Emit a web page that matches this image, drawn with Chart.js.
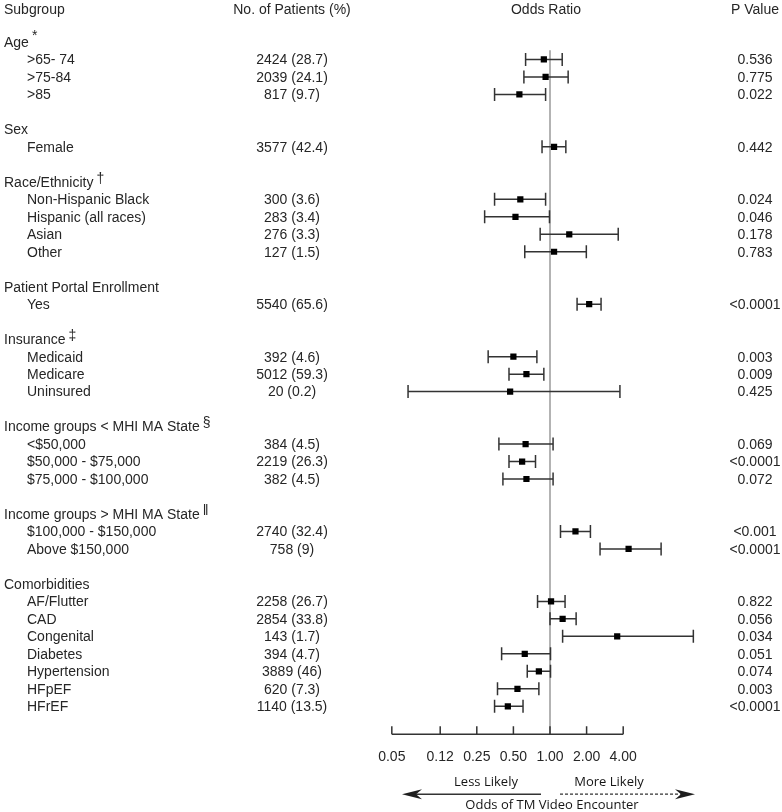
<!DOCTYPE html>
<html><head><meta charset="utf-8">
<script src="https://cdn.jsdelivr.net/npm/chart.js@4"></script>
<style>html,body{margin:0;padding:0;background:#fff}#wrap{width:782px;height:812px;position:relative}</style>
</head><body><div id="wrap"><canvas id="c" width="782" height="812"></canvas></div>
<script>
// ---------- DATA ----------
const groupNames = ["Age", "Sex", "Race/Ethnicity", "Patient Portal Enrollment", "Insurance",
  "Income groups < MHI MA State", "Income groups > MHI MA State", "Comorbidities"];
const groupMarks = ["*", "", "\u2020", "", "\u2021", "\u00a7", "\u2016", ""];
const groupSizes = [3, 1, 4, 1, 3, 3, 2, 7];
const subgroups = [">65- 74", ">75-84", ">85",
  "Female",
  "Non-Hispanic Black", "Hispanic (all races)", "Asian", "Other",
  "Yes",
  "Medicaid", "Medicare", "Uninsured",
  "<$50,000", "$50,000 - $75,000", "$75,000 - $100,000",
  "$100,000 - $150,000", "Above $150,000",
  "AF/Flutter", "CAD", "Congenital", "Diabetes", "Hypertension", "HFpEF", "HFrEF"];
const patients = ["2424 (28.7)", "2039 (24.1)", "817 (9.7)",
  "3577 (42.4)",
  "300 (3.6)", "283 (3.4)", "276 (3.3)", "127 (1.5)",
  "5540 (65.6)",
  "392 (4.6)", "5012 (59.3)", "20 (0.2)",
  "384 (4.5)", "2219 (26.3)", "382 (4.5)",
  "2740 (32.4)", "758 (9)",
  "2258 (26.7)", "2854 (33.8)", "143 (1.7)", "394 (4.7)", "3889 (46)", "620 (7.3)", "1140 (13.5)"];
const oddsRatio = [0.89, 0.92, 0.56,
  1.08,
  0.57, 0.52, 1.44, 1.08,
  2.10,
  0.50, 0.64, 0.47,
  0.63, 0.59, 0.64,
  1.62, 4.43,
  1.02, 1.27, 3.57, 0.62, 0.81, 0.54, 0.45];
const ciLow = [0.63, 0.61, 0.35,
  0.86,
  0.35, 0.29, 0.83, 0.62,
  1.67,
  0.31, 0.46, 0.068,
  0.38, 0.46, 0.41,
  1.22, 2.58,
  0.79, 1.00, 1.27, 0.40, 0.65, 0.37, 0.35];
const ciHigh = [1.26, 1.41, 0.92,
  1.35,
  0.92, 0.99, 3.64, 1.99,
  2.63,
  0.78, 0.89, 3.76,
  1.06, 0.76, 1.06,
  2.15, 8.2,
  1.33, 1.64, 15.1, 1.01, 1.01, 0.81, 0.60];
const pValues = ["0.536", "0.775", "0.022",
  "0.442",
  "0.024", "0.046", "0.178", "0.783",
  "<0.0001",
  "0.003", "0.009", "0.425",
  "0.069", "<0.0001", "0.072",
  "<0.001", "<0.0001",
  "0.822", "0.056", "0.034", "0.051", "0.074", "0.003", "<0.0001"];
const tickValues = [0.05, 0.125, 0.25, 0.5, 1, 2, 4];
const tickLabels = ["0.05", "0.12", "0.25", "0.50", "1.00", "2.00", "4.00"];
const columnHeaders = ["Subgroup", "No. of Patients (%)", "Odds Ratio", "P Value"];
const directionLabels = ["Less Likely", "More Likely"];
const axisCaption = "Odds of TM Video Encounter";

// ---------- ROW LAYOUT (slot index per row) ----------
const groupSlots = [];
const itemSlots = [];
let slot = 0;
groupSizes.forEach((n) => {
  groupSlots.push(slot); slot++;
  for (let j = 0; j < n; j++) { itemSlots.push(slot); slot++; }
  slot++; // blank spacer
});

const whiskers = [];
const caps = [];
const points = [];
subgroups.forEach((_, i) => {
  const s = itemSlots[i];
  whiskers.push({x: ciLow[i], y: s}, {x: ciHigh[i], y: s}, {x: ciHigh[i], y: null});
  caps.push({x: ciLow[i], y: s}, {x: ciHigh[i], y: s});
  points.push({x: oddsRatio[i], y: s});
});

// ---------- SCALE GEOMETRY ----------
const PX_PER_DOUBLING = 36.6, ONE_PX = 550, W = 782;
const xMin = Math.pow(2, -ONE_PX / PX_PER_DOUBLING);
const xMax = Math.pow(2, (W - ONE_PX) / PX_PER_DOUBLING);
const Y_MIN = -2.402, Y_MAX = 39.598;
const HEADER_SLOT = -1.9, REF_TOP_SLOT = 0.47;

const FONT = '"Liberation Sans", Arial, Helvetica, sans-serif';
const TXT = '#262626';

const textPlugin = {
  id: 'forestText',
  afterDraw(chart) {
    const {ctx, scales: {y}} = chart;
    const yp = (s) => y.getPixelForValue(s) + 1;
    ctx.save();
    ctx.fillStyle = TXT;
    ctx.textBaseline = 'middle';
    ctx.font = '14px ' + FONT;
    ctx.textAlign = 'left';
    ctx.fillText(columnHeaders[0], 4, yp(HEADER_SLOT));
    ctx.textAlign = 'center';
    ctx.fillText(columnHeaders[1], 292, yp(HEADER_SLOT));
    ctx.fillText(columnHeaders[2], 546, yp(HEADER_SLOT));
    ctx.fillText(columnHeaders[3], 755, yp(HEADER_SLOT));
    groupNames.forEach((g, i) => {
      ctx.textAlign = 'left';
      const yy = yp(groupSlots[i]);
      ctx.fillText(g, 4, yy);
      if (groupMarks[i]) {
        const w = ctx.measureText(g).width;
        const raise = groupMarks[i] === '*' ? 7 : 4;
        ctx.fillText(groupMarks[i], 4 + w + 3, yy - raise);
      }
    });
    subgroups.forEach((s, i) => {
      const yy = yp(itemSlots[i]);
      ctx.textAlign = 'left';
      ctx.fillText(s, 27, yy);
      ctx.textAlign = 'center';
      ctx.fillText(patients[i], 292, yy);
      ctx.fillText(pValues[i], 755, yy);
    });
    ctx.restore();
  }
};

const axisPlugin = {
  id: 'forestAxis',
  afterDraw(chart) {
    const {ctx, chartArea, scales: {x}} = chart;
    const yA = chartArea.bottom;
    const x0 = x.getPixelForValue(tickValues[0]);
    const x1 = x.getPixelForValue(tickValues[tickValues.length - 1]);
    ctx.save();
    ctx.strokeStyle = '#333';
    ctx.lineWidth = 1.5;
    ctx.beginPath();
    ctx.moveTo(x0, yA); ctx.lineTo(x1, yA);
    tickValues.forEach((v) => {
      const px = x.getPixelForValue(v);
      ctx.moveTo(px, yA); ctx.lineTo(px, yA - 8);
    });
    ctx.stroke();

    const c = x.getPixelForValue(1);
    const yArrow = yA + 60;
    ctx.fillStyle = '#1e1e1e';
    ctx.strokeStyle = '#333';
    ctx.lineWidth = 1.6;
    ctx.beginPath();
    ctx.moveTo(c - 9, yArrow); ctx.lineTo(c - 136, yArrow);
    ctx.stroke();
    ctx.beginPath();
    ctx.moveTo(c - 148, yArrow);
    ctx.lineTo(c - 128, yArrow - 5);
    ctx.lineTo(c - 134, yArrow);
    ctx.lineTo(c - 128, yArrow + 5);
    ctx.closePath(); ctx.fill();
    ctx.setLineDash([3, 2]);
    ctx.lineWidth = 1.3;
    ctx.beginPath();
    ctx.moveTo(c + 10, yArrow); ctx.lineTo(c + 133, yArrow);
    ctx.stroke();
    ctx.setLineDash([]);
    ctx.beginPath();
    ctx.moveTo(c + 145, yArrow);
    ctx.lineTo(c + 125, yArrow - 5);
    ctx.lineTo(c + 131, yArrow);
    ctx.lineTo(c + 125, yArrow + 5);
    ctx.closePath(); ctx.fill();

    ctx.fillStyle = '#151515';
    ctx.font = '13px "Open Sans", "Noto Sans", sans-serif';
    ctx.textAlign = 'center';
    ctx.textBaseline = 'middle';
    ctx.fillText(directionLabels[0], c - 64, yArrow - 12);
    ctx.fillText(directionLabels[1], c + 59, yArrow - 12);
    ctx.fillText(axisCaption, c + 2, yArrow + 11);
    ctx.restore();
  }
};

new Chart(document.getElementById('c'), {
  type: 'scatter',
  data: {
    datasets: [
      {
        label: 'Odds ratio', type: 'scatter', data: points, order: 0,
        pointStyle: 'rect', pointRadius: 4.4, pointHoverRadius: 4.4,
        backgroundColor: '#000', borderColor: '#000', borderWidth: 0
      },
      {
        label: 'CI caps', type: 'scatter', data: caps, order: 1,
        pointStyle: 'line', rotation: 90, pointRadius: 6.5, pointHoverRadius: 6.5,
        borderColor: '#333', borderWidth: 1.5, backgroundColor: '#333'
      },
      {
        label: '95% CI', type: 'line', data: whiskers, order: 2,
        borderColor: '#333', borderWidth: 1.5, pointRadius: 0, spanGaps: false, fill: false
      },
      {
        label: 'OR = 1', type: 'line', data: [{x: 1, y: REF_TOP_SLOT}, {x: 1, y: Y_MAX}], order: 3,
        borderColor: '#9a9a9a', borderWidth: 1.5, pointRadius: 0, fill: false
      }
    ]
  },
  options: {
    responsive: false,
    animation: false,
    devicePixelRatio: 1,
    layout: {autoPadding: false, padding: {left: 0, right: 0, top: 0, bottom: 31}},
    plugins: {legend: {display: false}, tooltip: {enabled: false}},
    scales: {
      x: {
        type: 'logarithmic', position: 'bottom', min: xMin, max: xMax, bounds: 'data',
        afterBuildTicks: (scale) => { scale.ticks = tickValues.map((v) => ({value: v})); },
        ticks: {
          autoSkip: false, maxRotation: 0, padding: 15, color: TXT,
          font: {family: FONT, size: 14},
          callback: (v, i) => tickLabels[i]
        },
        grid: {display: false, drawTicks: false},
        border: {display: false}
      },
      y: {
        type: 'linear', display: false, reverse: true, min: Y_MIN, max: Y_MAX, bounds: 'data'
      }
    }
  },
  plugins: [textPlugin, axisPlugin]
});
</script></body></html>
